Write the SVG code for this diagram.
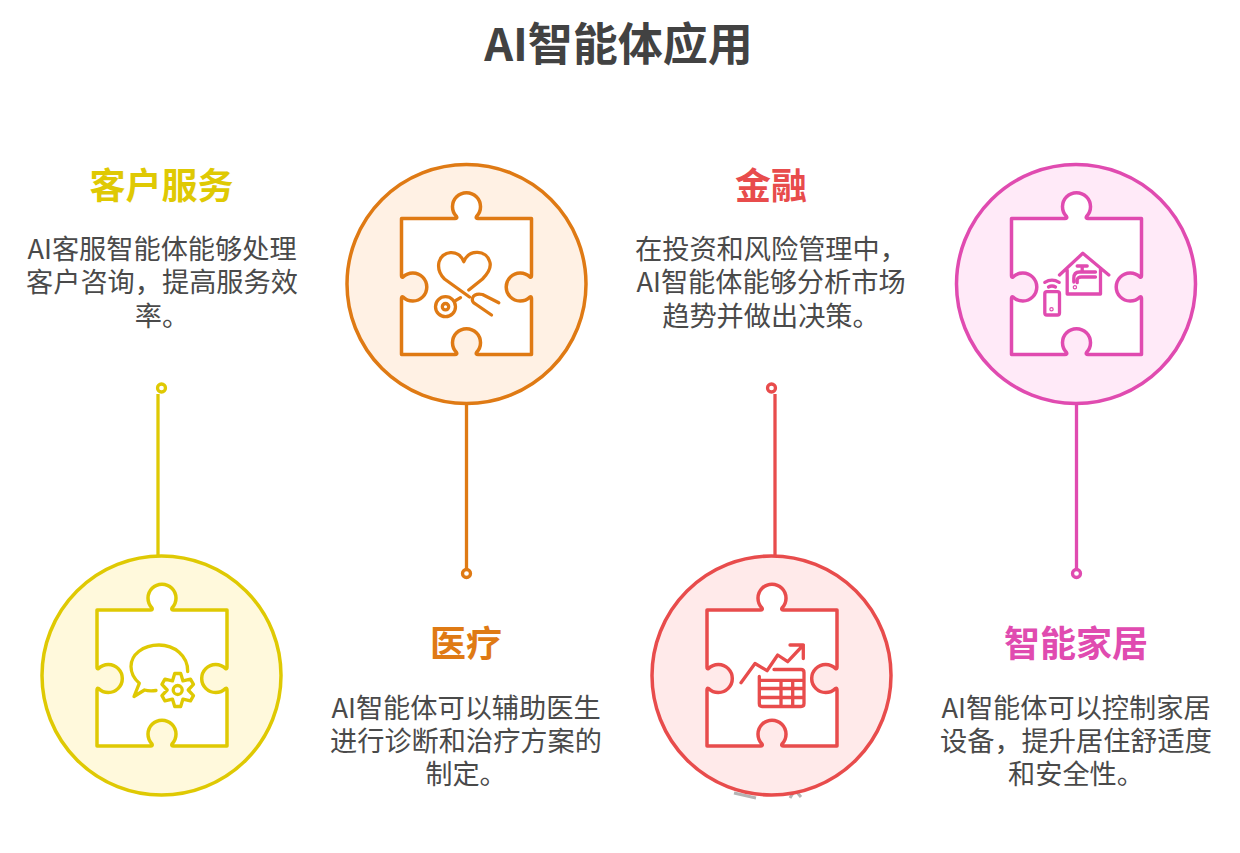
<svg xmlns="http://www.w3.org/2000/svg" width="1240" height="853" viewBox="0 0 1240 853">
<style>
text{font-family:"Noto Sans CJK SC","Noto Sans",sans-serif;text-anchor:middle}
.title{font-size:45px;font-weight:700;fill:#424242}
.head{font-size:36px;font-weight:700}
.body{font-size:27.200px;font-weight:400;fill:#4a4a4a}
.ln{fill:none;stroke-width:3.300;stroke-linecap:round;stroke-linejoin:round}
.disc{stroke-width:3.500}
.piece{fill:#fff;stroke-width:3.500;stroke-linejoin:round}
.dot{fill:#fff;stroke-width:3.300}
.wire{fill:none;stroke-width:3.300}
.y{stroke:#DFC903}.y-t{fill:#DFC903}.y-f{fill:#FFF9DC}
.o{stroke:#DF7A14}.o-t{fill:#DF7A14}.o-f{fill:#FFF1E4}
.r{stroke:#E84C4C}.r-t{fill:#E84C4C}.r-f{fill:#FFEAEA}
.p{stroke:#E04BB0}.p-t{fill:#E04BB0}.p-f{fill:#FFEAF8}
</style>
<defs>
<path id="puzzle" d="M-65,-65.500 H-11.500 Q-9,-65.500 -10,-67.500 A14,14 0 1 1 10,-67.500 Q9,-65.500 11.500,-65.500 H65 V-8.500 Q65,-6 63.500,-7 A14,14 0 1 0 63.500,13 Q65,12 65,14.500 V70.500 H11.500 Q9,70.500 10,68.500 A14,14 0 1 0 -10,68.500 Q-9,70.500 -11.500,70.500 H-65 V14.500 Q-65,12 -63.500,13 A14,14 0 1 0 -63.500,-7 Q-65,-6 -65,-8.500 Z"/>
</defs>
<text class="title" x="618.500" y="60.500">AI智能体应用</text>
<g id="connectors">
<g class="y"><path class="wire" d="M158,394 V560"/><circle class="dot" cx="161.500" cy="388" r="4"/></g>
<g class="o"><path class="wire" d="M466.500,404 V570"/><circle class="dot" cx="466.500" cy="573.500" r="4"/></g>
<g class="r"><path class="wire" d="M775,394 V560"/><circle class="dot" cx="771.500" cy="388" r="4"/></g>
<g class="p"><path class="wire" d="M1076.500,404 V570"/><circle class="dot" cx="1076.500" cy="573.500" r="4"/></g>
</g>
<g id="node-customer-service">
<circle class="disc y y-f" cx="161.500" cy="675.500" r="119.500"/>
<g class="y" transform="translate(162 675.500)">
<use href="#puzzle" class="piece"/>
<path class="ln" d="M25.700,-4 C26,-20 12,-30.500 -3,-30.500 C-19,-30.500 -31,-21 -31,-9 C-31,-2 -27,4 -22.700,7.800 L-28,21 L-17.500,14.500 C-14,15.500 -10,15.500 -6,15"/>
<g transform="translate(15.700 14.500)"><path class="ln" d="M-3,-16.500 L3,-16.500 L5.250,-9.100 L12.790,-10.850 L15.790,-5.650 L10.500,0 L15.790,5.650 L12.790,10.850 L5.250,9.100 L3,16.500 L-3,16.500 L-5.250,9.100 L-12.790,10.850 L-15.790,5.650 L-10.500,0 L-15.790,-5.650 L-12.790,-10.850 L-5.250,-9.100 Z"/><circle class="ln" r="4.500"/></g>
</g>
<text class="head y-t" x="161.500" y="199">客户服务</text>
<text class="body" x="162" y="259">AI客服智能体能够处理</text>
<text class="body" x="162" y="292">客户咨询，提高服务效</text>
<text class="body" x="162" y="326">率。</text>
</g>
<g id="node-healthcare">
<circle class="disc o o-f" cx="466.500" cy="284" r="119.500"/>
<g class="o" transform="translate(466.500 284)">
<use href="#puzzle" class="piece"/>
<path class="ln" d="M2.300,6 L16,-5 C23,-12 25,-18 23,-23 C20,-33 3,-36 -2.700,-22.300 C-8,-36 -25,-33 -27.500,-22 C-29,-15 -26,-9 -22,-5 L3,13"/>
<path class="ln" d="M32.300,18.700 L16,10.500 Q8,9 6,14 Q5,18 9,20 L25,31 M-11,16.700 L-6,13.700"/>
<circle class="ln" cx="-21" cy="22.700" r="10"/><circle class="ln" cx="-21" cy="22.700" r="3.200"/>
</g>
<text class="head o-t" x="466" y="657">医疗</text>
<text class="body" x="466" y="718">AI智能体可以辅助医生</text>
<text class="body" x="466" y="751">进行诊断和治疗方案的</text>
<text class="body" x="466" y="784">制定。</text>
</g>
<g id="node-finance">
<path d="M734,793 L756,798 M790,798 L795,790 L801,797" fill="none" stroke="#B4B4B4" stroke-width="3"/>
<circle class="disc r r-f" cx="771.500" cy="675.500" r="119.500"/>
<g class="r" transform="translate(772 675.500)">
<use href="#puzzle" class="piece"/>
<path class="ln" d="M-31,7.200 L-17,-12 L-5,-4.800 L5.700,-20.500 L15.700,-13.800 L31.300,-30.500 M18,-30.500 H31.300 V-17"/>
<path class="ln" d="M2,-6 H29 Q32,-6 32,-3 V28 Q32,31 29,31 H-10 Q-12.700,31 -12.700,28 V1 M-12.700,4.800 H32 M-12.700,13 H32 M-12.700,22 H32 M9,4.800 V31 M20.700,4.800 V31"/>
</g>
<text class="head r-t" x="771" y="199">金融</text>
<text class="body" x="771" y="259">在投资和风险管理中，</text>
<text class="body" x="771" y="292">AI智能体能够分析市场</text>
<text class="body" x="771" y="326">趋势并做出决策。</text>
</g>
<g id="node-smart-home">
<circle class="disc p p-f" cx="1076" cy="284" r="119.500"/>
<g class="p" transform="translate(1076.500 284)">
<use href="#puzzle" class="piece"/>
<path class="ln" d="M-17,-9 L6.300,-30.700 L32.300,-9 M-9.300,-14 V10 H24 V-15.700"/>
<path class="ln" d="M0.700,-18 H10.700 M5.700,-18 V-13 M19,-12 H3 Q-2.700,-12 -2.700,-5.700 V-2 M19,-7 H5 Q0.700,-7 0.700,-4 V-1.300"/>
<circle class="ln" cx="-1.600" cy="3.300" r="0.600"/>
<rect class="ln" x="-31.700" y="7.700" width="14.700" height="23.300" rx="2"/>
<circle class="ln" cx="-25" cy="25.300" r="0.600"/>
<path class="ln" d="M-31.700,-1.700 Q-24.500,-6 -17.300,-1.700 M-28,3 Q-24.500,1 -21,3"/>
</g>
<text class="head p-t" x="1076" y="657">智能家居</text>
<text class="body" x="1076" y="718">AI智能体可以控制家居</text>
<text class="body" x="1076" y="751">设备，提升居住舒适度</text>
<text class="body" x="1076" y="784">和安全性。</text>
</g>
</svg>
